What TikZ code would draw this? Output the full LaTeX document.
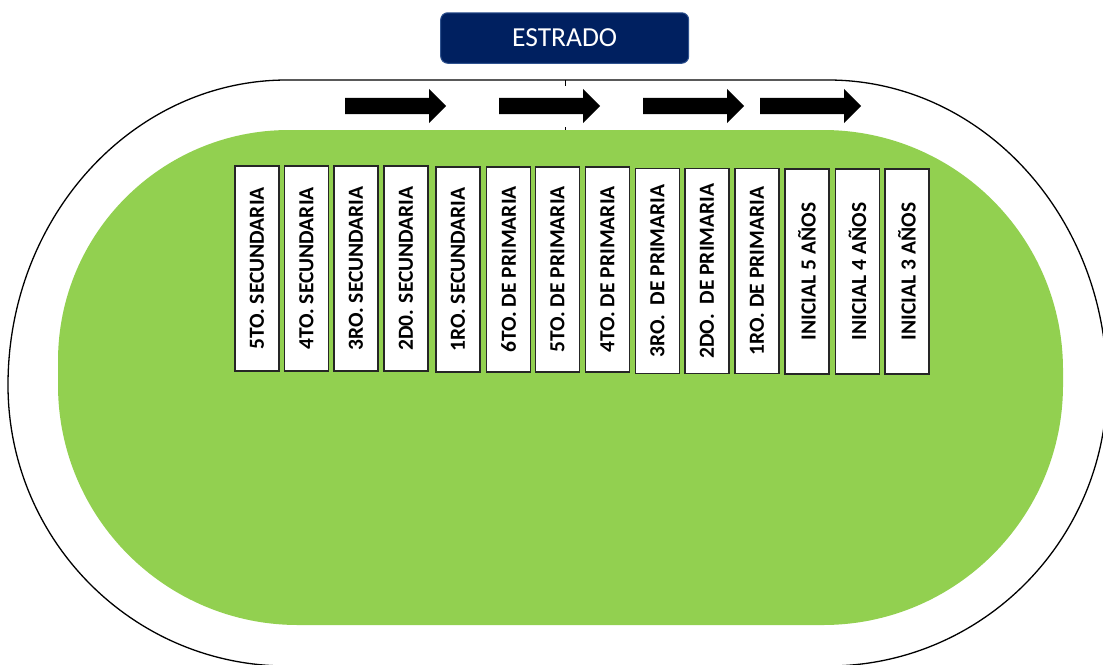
\documentclass[tikz,border=0pt]{standalone}
\usepackage{fontspec}
\setmainfont{Carlito}
\usetikzlibrary{shapes.arrows}
\definecolor{field}{HTML}{92D050}
\definecolor{navy}{HTML}{002060}
\definecolor{navyedge}{HTML}{2F528F}
\tikzset{
  classbox/.style={draw=black!85, line width=1.1pt, fill=white, rotate=90,
    minimum width=205pt, minimum height=44pt, inner sep=0pt,
    font=\fontsize{21.5}{24}\selectfont\bfseries},
  flowarrow/.style={single arrow, fill=black, draw=none, inner sep=0pt,
    text height=16pt, text depth=0pt, text width=0pt,
    minimum height=101pt, single arrow head extend=9pt,
    single arrow tip angle=90, anchor=tail},
  stage/.style={draw=navyedge, line width=1pt, fill=navy, rounded corners=7pt,
    minimum width=248pt, minimum height=50.5pt, text=white,
    font=\fontsize{27.5}{30}\selectfont},
  track/.style={draw=black, line width=1.3pt},
  tick/.style={draw=black, line width=0.6pt}
}
\begin{document}
\begin{tikzpicture}[x=1pt,y=-1pt]
\useasboundingbox (0,0) rectangle (1103,664);
\fill[white] (0,0) rectangle (1103,664);
\clip (0,0) rectangle (1103,664);
% outer track
\draw[track] (287,80) -- (828,80)
  arc[start angle=270, end angle=360, x radius=279, y radius=305]
  arc[start angle=0, end angle=90, x radius=279, y radius=281]
  -- (287,666)
  arc[start angle=90, end angle=180, x radius=279, y radius=281]
  arc[start angle=180, end angle=270, x radius=279, y radius=305]
  -- cycle;
% green field
\fill[field] (289,130) -- (823,130)
  arc[start angle=270, end angle=360, radius=240]
  -- (1063,385)
  arc[start angle=0, end angle=90, radius=240]
  -- (298,625)
  arc[start angle=90, end angle=180, radius=240]
  -- (58,361)
  arc[start angle=180, end angle=270, radius=231]
  -- cycle;
% small ticks
\coordinate (t1a) at (565,80); \coordinate (t1b) at (565,86);
\coordinate (t2a) at (565,127); \coordinate (t2b) at (565,130);
\draw[tick] (t1a) -- (t1b);
\draw[tick] (t2a) -- (t2b);
% stage
\node[stage] (estrado) at (564.7,38) {ESTRADO};
% arrows
\node[flowarrow] (a1) at (345,106) {};
\node[flowarrow] (a2) at (499,106) {};
\node[flowarrow] (a3) at (643,106) {};
\node[flowarrow] (a4) at (760,106) {};
% class boxes
\node[classbox] (b1) at (257,268.5) {5TO. SECUNDARIA};
\node[classbox] (b2) at (306.5,268.5) {4TO. SECUNDARIA};
\node[classbox] (b3) at (356,268.5) {3RO. SECUNDARIA};
\node[classbox] (b4) at (406,268.5) {2D0. SECUNDARIA};
\node[classbox] (b5) at (458,269.5) {1RO. SECUNDARIA};
\node[classbox] (b6) at (508.5,269.5) {6TO. DE PRIMARIA};
\node[classbox] (b7) at (557.5,269.5) {5TO. DE PRIMARIA};
\node[classbox] (b8) at (607.5,269.5) {4TO. DE PRIMARIA};
\node[classbox] (b9) at (657.5,271) {3RO.~~DE PRIMARIA};
\node[classbox] (b10) at (707,271) {2DO.~~DE PRIMARIA};
\node[classbox] (b11) at (757,271) {1RO. DE PRIMARIA};
\node[classbox] (b12) at (807,271.5) {INICIAL 5 AÑOS};
\node[classbox] (b13) at (857.5,271.5) {INICIAL 4 AÑOS};
\node[classbox] (b14) at (907,271.5) {INICIAL 3 AÑOS};
\end{tikzpicture}
\end{document}
